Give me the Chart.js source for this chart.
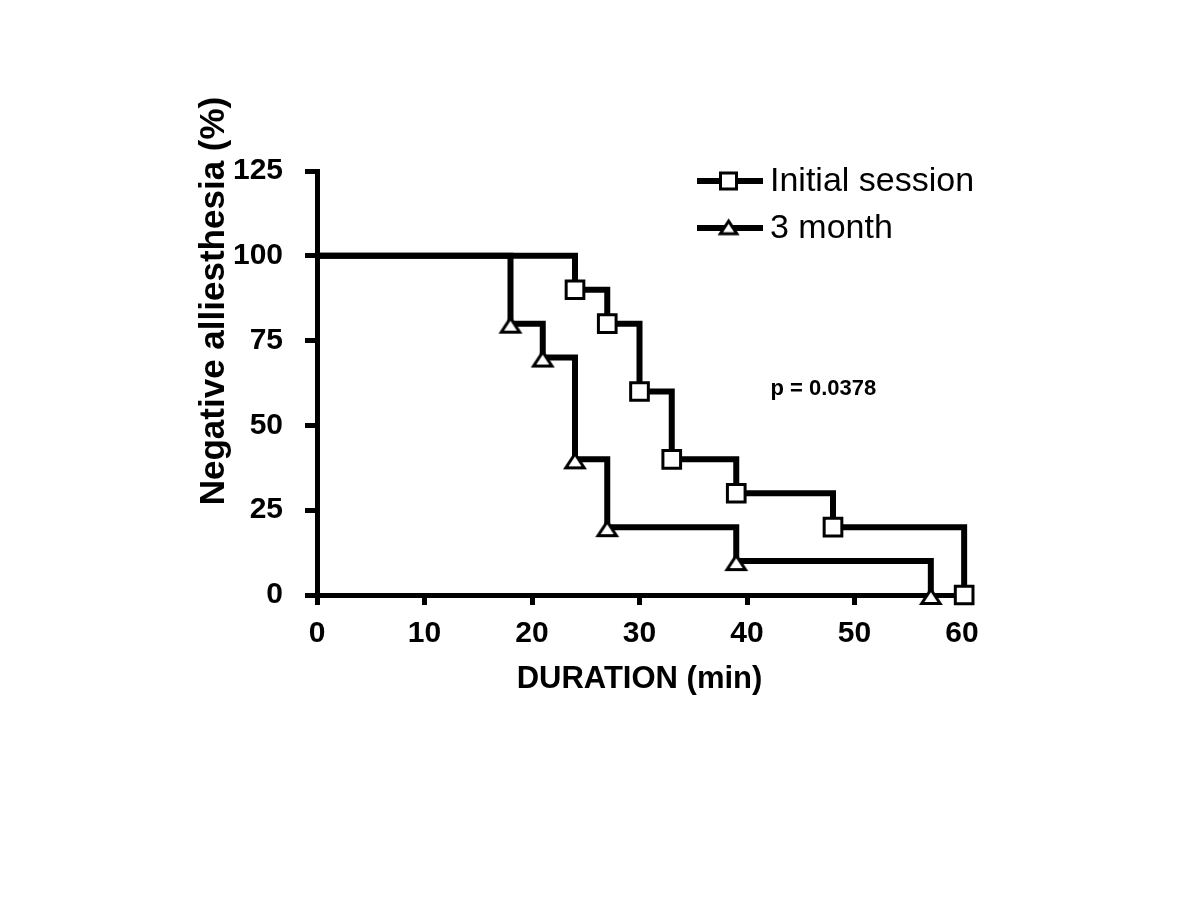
<!DOCTYPE html>
<html>
<head>
<meta charset="utf-8">
<script src="https://cdn.jsdelivr.net/npm/chart.js@4.4.0/dist/chart.umd.min.js"></script>
<style>
  html, body { margin: 0; padding: 0; background: #ffffff; }
  #wrap { width: 1200px; height: 900px; }
</style>
</head>
<body>
<div id="wrap"><canvas id="c" width="1200" height="900"></canvas></div>
<script>
// ---- Data ----
const seriesNames = ['Initial session', '3 month'];
const timeInitial = [0, 24, 27, 30, 33, 39, 48, 60.2];
const survInitial = [100, 90, 80, 60, 40, 30, 20, 0];
const time3Month  = [0, 18, 21, 24, 27, 39, 57.1];
const surv3Month  = [100, 80, 70, 40, 20, 10, 0];
const xTickValues = [0, 10, 20, 30, 40, 50, 60];
const yTickValues = [0, 25, 50, 75, 100, 125];
const xTitle = 'DURATION (min)';
const yTitle = 'Negative alliesthesia (%)';
const pValueText = 'p = 0.0378';
const pValueAt = { x: 47.1, y: 60.7 };

const FONT = '"Liberation Sans", Arial, Helvetica, sans-serif';

// custom flat triangle marker (open, white fill)
function makeTriangle(scale) {
  const s = 28 * scale;
  const cv = document.createElement('canvas');
  cv.width = s; cv.height = s;
  const g = cv.getContext('2d');
  const cx = s / 2, cy = s / 2;
  g.beginPath();
  g.moveTo(cx, cy - 5.5 * scale);
  g.lineTo(cx + 9.2 * scale, cy + 8.4 * scale);
  g.lineTo(cx - 9.2 * scale, cy + 8.4 * scale);
  g.closePath();
  g.fillStyle = '#ffffff';
  g.fill();
  g.lineWidth = 3;
  g.lineJoin = 'miter';
  g.strokeStyle = '#000000';
  g.stroke();
  return cv;
}
const triMarker = makeTriangle(1);
const triLegend = makeTriangle(0.9);

function toPoints(xs, ys) { return xs.map((x, i) => ({ x: x, y: ys[i] })); }
function radii(n, r) { return Array.from({ length: n }, (_, i) => (i === 0 ? 0 : r)); }

const decorPlugin = {
  id: 'decor',
  afterDraw(chart) {
    const ctx = chart.ctx;
    const xs = chart.scales.x, ys = chart.scales.y;
    ctx.save();
    ctx.fillStyle = '#000';
    // y title
    ctx.save();
    ctx.translate(224, 301);
    ctx.rotate(-Math.PI / 2);
    ctx.font = 'bold 35px ' + FONT;
    ctx.textAlign = 'center';
    ctx.textBaseline = 'alphabetic';
    ctx.fillText(yTitle, 0, 0);
    ctx.restore();
    // x title
    ctx.font = 'bold 31px ' + FONT;
    ctx.textAlign = 'center';
    ctx.textBaseline = 'alphabetic';
    ctx.fillText(xTitle, (chart.chartArea.left + chart.chartArea.right) / 2, 688);
    // p value
    ctx.font = 'bold 22px ' + FONT;
    ctx.textAlign = 'center';
    ctx.textBaseline = 'middle';
    ctx.fillText(pValueText, xs.getPixelForValue(pValueAt.x), ys.getPixelForValue(pValueAt.y));
    // legend
    const items = [{ y: 181, style: 'rect' }, { y: 228, style: 'tri' }];
    items.forEach((it, i) => {
      ctx.strokeStyle = '#000';
      ctx.lineWidth = 6;
      ctx.beginPath();
      ctx.moveTo(697, it.y);
      ctx.lineTo(763, it.y);
      ctx.stroke();
      if (it.style === 'rect') {
        ctx.fillStyle = '#fff';
        ctx.lineWidth = 3;
        ctx.fillRect(720.5, it.y - 8, 16, 16);
        ctx.strokeRect(720.5, it.y - 8, 16, 16);
      } else {
        ctx.drawImage(triLegend, 728.5 - triLegend.width / 2, it.y - 2 - triLegend.height / 2);
      }
      ctx.fillStyle = '#000';
      ctx.font = '34px ' + FONT;
      ctx.textAlign = 'left';
      ctx.textBaseline = 'middle';
      ctx.fillText(seriesNames[i], 770, it.y + 1);
    });
    ctx.restore();
  }
};

const chart = new Chart(document.getElementById('c'), {
  type: 'line',
  data: {
    datasets: [
      {
        label: seriesNames[0],
        data: toPoints(timeInitial, survInitial),
        stepped: 'before',
        borderColor: '#000',
        borderWidth: 6,
        pointStyle: 'rect',
        pointRadius: radii(timeInitial.length, 12.5),
        pointBackgroundColor: '#fff',
        pointBorderColor: '#000',
        pointBorderWidth: 3,
        clip: false,
        fill: false
      },
      {
        label: seriesNames[1],
        data: toPoints(time3Month, surv3Month),
        stepped: 'before',
        borderColor: '#000',
        borderWidth: 6,
        pointStyle: triMarker,
        pointRadius: radii(time3Month.length, 10),
        pointBackgroundColor: '#fff',
        pointBorderColor: '#000',
        clip: false,
        fill: false
      }
    ]
  },
  options: {
    responsive: false,
    animation: false,
    devicePixelRatio: 1,
    layout: { padding: { top: 171, right: 238, left: 0, bottom: 0 } },
    plugins: { legend: { display: false }, tooltip: { enabled: false }, title: { display: false } },
    elements: { line: { tension: 0, capBezierPoints: false, borderJoinStyle: 'miter', borderCapStyle: 'butt' } },
    scales: {
      x: {
        type: 'linear',
        min: 0, max: 60,
        afterBuildTicks: (s) => { s.ticks = xTickValues.map(v => ({ value: v })); },
        afterFit: (s) => { s.height = 305; },
        border: { display: true, color: '#000', width: 5 },
        grid: { drawOnChartArea: false, drawTicks: true, tickLength: 10, color: '#000', lineWidth: 5 },
        ticks: { color: '#000', padding: 11, maxRotation: 0, autoSkip: false, font: { family: FONT, size: 30, weight: 'bold' } },
        title: { display: false }
      },
      y: {
        type: 'linear',
        min: 0, max: 125,
        afterBuildTicks: (s) => { s.ticks = yTickValues.map(v => ({ value: v })); },
        afterFit: (s) => { s.width = 317; },
        border: { display: true, color: '#000', width: 5 },
        grid: { drawOnChartArea: false, drawTicks: true, tickLength: 12, color: '#000', lineWidth: 5 },
        ticks: { color: '#000', padding: 22, autoSkip: false, font: { family: FONT, size: 30, weight: 'bold' } },
        title: { display: false }
      }
    }
  },
  plugins: [decorPlugin]
});
</script>
</body>
</html>
